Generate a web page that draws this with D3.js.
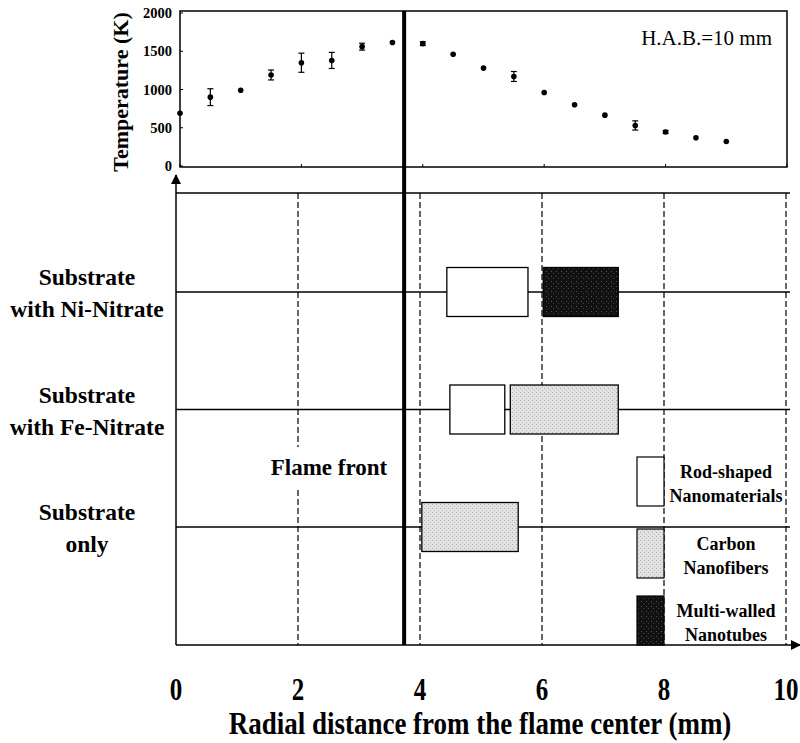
<!DOCTYPE html>
<html>
<head>
<meta charset="utf-8">
<script src="https://cdn.jsdelivr.net/npm/d3@7"></script>
<style>
  body { margin: 0; background: #fff; }
  text { font-family: "Liberation Serif", "Times New Roman", serif; }
</style>
</head>
<body>
<div id="chart"></div>
<script>
// Temperature profile at H.A.B. = 10 mm
var tempX   = [0, 0.5, 1, 1.5, 2, 2.5, 3, 3.5, 4, 4.5, 5, 5.5, 6, 6.5, 7, 7.5, 8, 8.5, 9];
var tempVal = [690, 900, 990, 1190, 1350, 1380, 1560, 1615, 1600, 1460, 1280, 1170, 960, 800, 665, 530, 445, 370, 320];
var tempErr = [0, 110, 0, 65, 125, 105, 45, 0, 25, 0, 0, 65, 0, 0, 0, 60, 20, 0, 0];
var tempTicks = [0, 500, 1000, 1500, 2000];

// Substrates (rows) and product regions (mm)
var categories = ["Ni", "Fe", "only"];
var catLabels = [["Substrate", "with Ni-Nitrate"], ["Substrate", "with Fe-Nitrate"], ["Substrate", "only"]];
var boxCat   = ["Ni", "Ni", "Fe", "Fe", "only"];
var boxType  = ["rod", "mwnt", "rod", "cnf", "cnf"];
var boxStart = [4.44, 6.02, 4.49, 5.48, 4.03];
var boxEnd   = [5.77, 7.25, 5.39, 7.25, 5.61];
var flameFront = 3.74;
var xTicks = [0, 2, 4, 6, 8, 10];
var legendTypes = ["rod", "cnf", "mwnt"];
var legendLabels = [["Rod-shaped", "Nanomaterials"], ["Carbon", "Nanofibers"], ["Multi-walled", "Nanotubes"]];

var fills = { rod: "#ffffff", cnf: "url(#speckGray)", mwnt: "url(#speckBlack)" };

var W = 800, H = 743;
var svg = d3.select("#chart").append("svg")
    .attr("width", W).attr("height", H);

var defs = svg.append("defs");
// speckled textures
var pg = defs.append("pattern").attr("id", "speckGray")
    .attr("width", 4).attr("height", 4).attr("patternUnits", "userSpaceOnUse");
pg.append("rect").attr("width", 4).attr("height", 4).attr("fill", "#e2e2e2");
pg.append("rect").attr("x", 0).attr("y", 0).attr("width", 1).attr("height", 1).attr("fill", "#aaa");
pg.append("rect").attr("x", 2).attr("y", 2).attr("width", 1).attr("height", 1).attr("fill", "#bbb");
var pb = defs.append("pattern").attr("id", "speckBlack")
    .attr("width", 5).attr("height", 5).attr("patternUnits", "userSpaceOnUse");
pb.append("rect").attr("width", 5).attr("height", 5).attr("fill", "#111");
pb.append("rect").attr("x", 1).attr("y", 1).attr("width", 1).attr("height", 1).attr("fill", "#555");
pb.append("rect").attr("x", 3).attr("y", 3).attr("width", 1).attr("height", 1).attr("fill", "#444");
defs.append("marker").attr("id", "arrow")
    .attr("viewBox", "0 0 10 10").attr("refX", 9).attr("refY", 5)
    .attr("markerWidth", 10).attr("markerHeight", 11)
    .attr("markerUnits", "userSpaceOnUse")
    .attr("orient", "auto")
    .append("path").attr("d", "M0,0 L10,5 L0,10 z").attr("fill", "#000");

// ---------- top panel ----------
var xt = d3.scaleLinear().domain([0, 10]).range([180, 787]);
var yt = d3.scaleLinear().domain([0, 2000]).range([166, 13]);

svg.append("rect")
    .attr("x", 180).attr("y", 11).attr("width", 607).attr("height", 156)
    .attr("fill", "none").attr("stroke", "#000").attr("stroke-width", 1.5);

svg.selectAll(".ytick").data(tempTicks).enter().append("text")
    .attr("x", 172).attr("y", function (d) { return yt(d) + 5; })
    .attr("text-anchor", "end").attr("font-size", 14.5).attr("font-weight", "bold")
    .text(function (d) { return d; });
svg.selectAll(".ytm").data(tempTicks).enter().append("line")
    .attr("x1", 180).attr("x2", 183)
    .attr("y1", function (d) { return yt(d); }).attr("y2", function (d) { return yt(d); })
    .attr("stroke", "#000");
svg.selectAll(".xtm").data(xTicks).enter().append("line")
    .attr("x1", function (d) { return xt(d); }).attr("x2", function (d) { return xt(d); })
    .attr("y1", 167).attr("y2", 164)
    .attr("stroke", "#000");

svg.append("text")
    .attr("transform", "translate(128,92) rotate(-90)")
    .attr("text-anchor", "middle").attr("font-size", 22).attr("font-weight", "bold")
    .text("Temperature (K)");

svg.append("text")
    .attr("x", 772).attr("y", 45).attr("text-anchor", "end").attr("font-size", 21)
    .text("H.A.B.=10 mm");

var pts = tempX.map(function (x, i) { return { x: x, t: tempVal[i], e: tempErr[i] }; });
var eb = svg.selectAll(".eb").data(pts.filter(function (d) { return d.e > 0; })).enter().append("g");
eb.append("line")
    .attr("x1", function (d) { return xt(d.x); }).attr("x2", function (d) { return xt(d.x); })
    .attr("y1", function (d) { return yt(d.t - d.e); }).attr("y2", function (d) { return yt(d.t + d.e); })
    .attr("stroke", "#000").attr("stroke-width", 1.2);
[-1, 1].forEach(function (s) {
  eb.append("line")
    .attr("x1", function (d) { return xt(d.x) - 3; }).attr("x2", function (d) { return xt(d.x) + 3; })
    .attr("y1", function (d) { return yt(d.t + s * d.e); }).attr("y2", function (d) { return yt(d.t + s * d.e); })
    .attr("stroke", "#000").attr("stroke-width", 1.2);
});
svg.selectAll(".pt").data(pts).enter().append("circle")
    .attr("cx", function (d) { return xt(d.x); })
    .attr("cy", function (d) { return yt(d.t); })
    .attr("r", 2.8).attr("fill", "#000");

// ---------- bottom panel ----------
var x = d3.scaleLinear().domain([0, 10]).range([176, 786]);
var y = d3.scalePoint().domain(categories).range([292, 527]);
var yTop = 193, yBot = 645, boxH = 49;

// dashed grid
svg.selectAll(".grid").data(xTicks.slice(1)).enter().append("line")
    .attr("x1", function (d) { return x(d); }).attr("x2", function (d) { return x(d); })
    .attr("y1", yTop).attr("y2", yBot)
    .attr("stroke", "#000").attr("stroke-width", 1.2).attr("stroke-dasharray", "6,3");

// top and row lines
svg.append("line").attr("x1", 176).attr("x2", 790).attr("y1", yTop).attr("y2", yTop)
    .attr("stroke", "#000").attr("stroke-width", 1.5);
svg.selectAll(".row").data(categories).enter().append("line")
    .attr("x1", 176).attr("x2", 790)
    .attr("y1", function (d) { return y(d); }).attr("y2", function (d) { return y(d); })
    .attr("stroke", "#000").attr("stroke-width", 1.3);

// axes with arrows
svg.append("line").attr("x1", 176).attr("x2", 176).attr("y1", yBot).attr("y2", 175)
    .attr("stroke", "#000").attr("stroke-width", 1.5).attr("marker-end", "url(#arrow)");
svg.append("line").attr("x1", 176).attr("x2", 800).attr("y1", yBot).attr("y2", yBot)
    .attr("stroke", "#000").attr("stroke-width", 1.5).attr("marker-end", "url(#arrow)");

// flame front
svg.append("line")
    .attr("x1", x(flameFront)).attr("x2", x(flameFront)).attr("y1", 11).attr("y2", yBot)
    .attr("stroke", "#000").attr("stroke-width", 4);

// "Flame front" label with white backing over the grid line
svg.append("rect").attr("x", x(2) - 6).attr("y", 447).attr("width", 12).attr("height", 40).attr("fill", "#fff");
svg.append("text")
    .attr("x", 329).attr("y", 475).attr("text-anchor", "middle")
    .attr("font-size", 23).attr("font-weight", "bold").text("Flame front");

// boxes
var boxes = boxCat.map(function (c, i) { return { c: c, t: boxType[i], x0: boxStart[i], x1: boxEnd[i] }; });
svg.selectAll(".box").data(boxes).enter().append("rect")
    .attr("x", function (d) { return x(d.x0); })
    .attr("width", function (d) { return x(d.x1) - x(d.x0); })
    .attr("y", function (d) { return y(d.c) - boxH / 2; })
    .attr("height", boxH)
    .attr("fill", function (d) { return fills[d.t]; })
    .attr("stroke", "#000").attr("stroke-width", 1.3);

// category labels
categories.forEach(function (c, i) {
  var t = svg.append("text").attr("text-anchor", "middle")
      .attr("font-size", 23.5).attr("font-weight", "bold");
  catLabels[i].forEach(function (line, j) {
    t.append("tspan").attr("x", 87).attr("y", y(c) - 7 + j * 32).text(line);
  });
});

// legend
var legY = [457, 529, 596];
legendTypes.forEach(function (tp, i) {
  svg.append("rect")
      .attr("x", 637).attr("y", legY[i]).attr("width", 27).attr("height", 49)
      .attr("fill", fills[tp]).attr("stroke", "#000").attr("stroke-width", 1.2);
  var t = svg.append("text").attr("text-anchor", "middle")
      .attr("font-size", 18).attr("font-weight", "bold");
  legendLabels[i].forEach(function (line, j) {
    t.append("tspan").attr("x", 726).attr("y", legY[i] + 21 + j * 23.5).text(line);
  });
});

// x tick labels and title (taller than wide in the original)
svg.selectAll(".xt").data(xTicks).enter().append("text")
    .attr("transform", function (d) { return "translate(" + x(d) + ",700) scale(1,1.3)"; })
    .attr("text-anchor", "middle").attr("font-size", 25).attr("font-weight", "bold")
    .text(function (d) { return d; });
svg.append("text")
    .attr("transform", "translate(480,734) scale(1,1.2)")
    .attr("text-anchor", "middle")
    .attr("font-size", 27).attr("font-weight", "bold")
    .text("Radial distance from the flame center (mm)");
</script>
</body>
</html>
